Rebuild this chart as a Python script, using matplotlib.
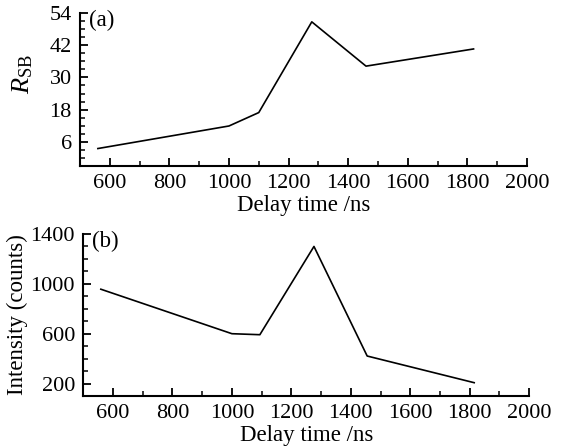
import matplotlib
matplotlib.use("Agg")
import matplotlib.pyplot as plt
from matplotlib.ticker import MultipleLocator

# data
delay_a = [560, 1000, 1100, 1278, 1460, 1821]
rsb = [3.5, 11.9, 16.9, 50.7, 34.2, 40.6]

delay_b = [559, 1000, 1094, 1276, 1455, 1815]
intensity = [957, 600, 592, 1300, 421, 207]

xticks = [600, 800, 1000, 1200, 1400, 1600, 1800, 2000]
yticks_a = [6, 18, 30, 42, 54]
yticks_b = [200, 600, 1000, 1400]

plt.rcParams["font.family"] = ["Liberation Serif", "DejaVu Serif"]
plt.rcParams["mathtext.fontset"] = "custom"
plt.rcParams["mathtext.rm"] = "Liberation Serif"
plt.rcParams["mathtext.it"] = "Liberation Serif:italic"
plt.rcParams["font.size"] = 16

fig = plt.figure(figsize=(5.69, 4.48), dpi=100)
ax1 = fig.add_axes([0.1406, 0.6295, 0.7854, 0.3415])
ax2 = fig.add_axes([0.1464, 0.116, 0.7836, 0.3617])


def style(ax):
    for s in ["top", "right"]:
        ax.spines[s].set_visible(False)
    for s in ["left", "bottom"]:
        ax.spines[s].set_linewidth(1.5)
    ax.tick_params(which="major", direction="in", length=6, width=1.3, pad=6, labelsize=16)
    ax.tick_params(which="minor", direction="in", length=3.5, width=1.1)
    ax.set_xlim(500, 2000)
    ax.set_xticks(xticks)
    ax.xaxis.set_minor_locator(MultipleLocator(100))
    ax.set_xlabel("Delay time /ns", fontsize=16.5, labelpad=1.5)


ax1.plot(delay_a, rsb, color="black", lw=1.2)
style(ax1)
ax1.set_ylim(-3, 54)
ax1.set_yticks(yticks_a)
ax1.yaxis.set_minor_locator(MultipleLocator(3))
ax1.set_ylabel(r"$R_{\rm SB}$", fontsize=19)
ax1.yaxis.set_label_coords(-0.1, 0.6)
ax1.text(0.02, 1.02, "(a)", transform=ax1.transAxes, ha="left", va="top", fontsize=16.5)

ax2.plot(delay_b, intensity, color="black", lw=1.2)
style(ax2)
ax2.set_ylim(100, 1400)
ax2.set_yticks(yticks_b)
ax2.yaxis.set_minor_locator(MultipleLocator(100))
ax2.set_ylabel("Intensity (counts)", fontsize=16.5)
ax2.yaxis.set_label_coords(-0.125, 0.5)
ax2.text(0.02, 1.02, "(b)", transform=ax2.transAxes, ha="left", va="top", fontsize=16.5)

fig.savefig("out.png", dpi=100)
